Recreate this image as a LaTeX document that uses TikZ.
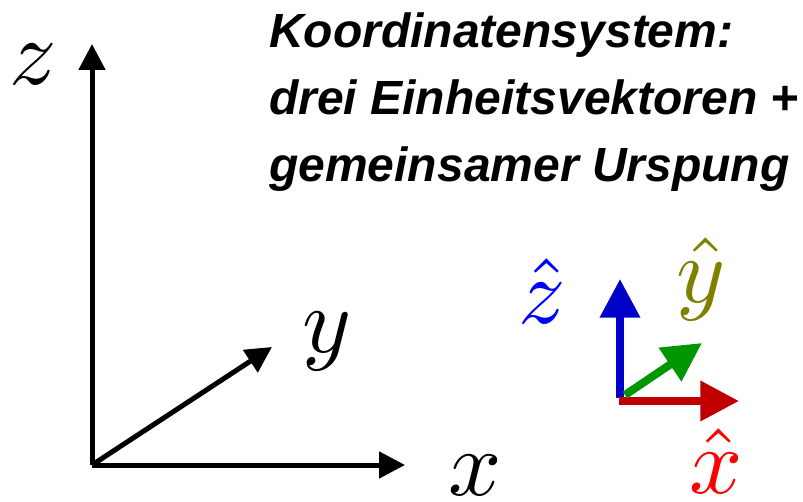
\documentclass[tikz,border=0pt]{standalone}
\usepackage{fontspec}
\newfontfamily\titlefont{Liberation Sans}
\usetikzlibrary{arrows.meta}
\definecolor{uzblue}{RGB}{0,0,200}
\definecolor{uxred}{RGB}{192,0,0}
\definecolor{uygreen}{RGB}{0,150,0}
\definecolor{lblolive}{RGB}{128,128,0}
\begin{document}
\begin{tikzpicture}[x=0.75pt,y=-0.75pt,
  bigaxis/.style={line width=3.75pt,-{Triangle[length=19.5pt,width=19.5pt]}},
  unitaxis/.style={line width=6pt,-{Triangle[length=29pt,width=29pt]}},
  axlabel/.style={inner sep=0pt,anchor=base,scale=7},
  titleline/.style={inner sep=0pt,anchor=base west,font=\titlefont\bfseries\itshape\fontsize{36}{44}\selectfont}]
\useasboundingbox (0,0) rectangle (803,502);
% big axes
\coordinate (O) at (92,465);
\coordinate (Zt) at (92,44);
\coordinate (Xt) at (405,465);
\coordinate (Yt) at (272,347);
\draw[bigaxis] (O) -- (Zt);
\draw[bigaxis] (O) -- (Xt);
\draw[bigaxis] (O) -- (Yt);
\node[axlabel] (zl) at (33,85) {$z$};
\node[axlabel] (yl) at (327,352) {$y$};
\node[axlabel] (xl) at (475,495) {$x$};
% title
\node[titleline] (t1) at (269,48) {Koordinatensystem:};
\node[titleline] (t2) at (269,115) {drei Einheitsvektoren +};
\node[titleline] (t3) at (269,182) {gemeinsamer Urspung};
% unit vectors
\coordinate (uzs) at (620,398);
\coordinate (uzt) at (620,279);
\coordinate (uxs) at (619,401);
\coordinate (uxt) at (739,401);
\coordinate (uys) at (625,395);
\coordinate (uyt) at (702,343);
\draw[unitaxis,uzblue] (uzs) -- (uzt);
\draw[unitaxis,uxred] (uxs) -- (uxt);
\draw[unitaxis,uygreen] (uys) -- (uyt);
\node[axlabel,text=blue] (zh) at (542,323) {$\hat{z}$};
\node[axlabel,text=lblolive] (yh) at (701,302) {$\hat{y}$};
\node[axlabel,text=red] (xh) at (716,493) {$\hat{x}$};
\end{tikzpicture}
\end{document}
